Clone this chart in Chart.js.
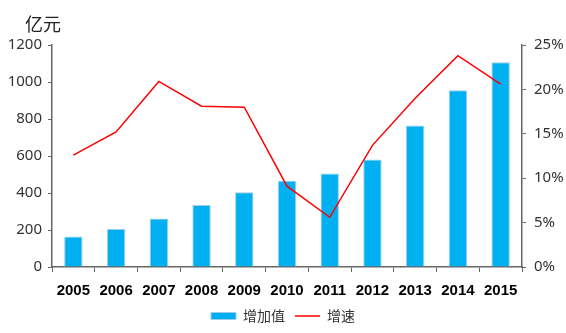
<!DOCTYPE html>
<html>
<head>
<meta charset="utf-8">
<script src="https://cdn.jsdelivr.net/npm/chart.js@4/dist/chart.umd.min.js"></script>
<style>
  html, body { margin: 0; padding: 0; background: #fff; }
  #wrap { width: 566px; height: 333px; }
</style>
</head>
<body>
<div id="wrap"><canvas id="chart"></canvas></div>
<script>
// 增加值 (亿元) and 增速 (%) by year
const years = ['2005', '2006', '2007', '2008', '2009', '2010', '2011', '2012', '2013', '2014', '2015'];
const addedValue = [165, 206, 262, 335, 404, 466, 505, 581, 765, 955, 1107];
const growthRate = [12.6, 15.2, 20.9, 18.1, 18.0, 9.1, 5.6, 13.7, 19.0, 23.8, 20.6];

Chart.defaults.font.family = '"Noto Sans", "Noto Sans CJK SC", sans-serif';
Chart.defaults.color = '#333';

// unit label above the left axis
const unitLabel = {
  id: 'unitLabel',
  afterDraw(chart) {
    const ctx = chart.ctx;
    ctx.save();
    ctx.font = '18px "Noto Sans CJK SC", sans-serif';
    ctx.fillStyle = '#222';
    ctx.textBaseline = 'middle';
    ctx.fillText('亿元', 25, 24);
    ctx.restore();
  }
};

const config = {
  type: 'bar',
  data: {
    labels: years,
    datasets: [
      {
        type: 'bar',
        label: '增加值',
        data: addedValue,
        yAxisID: 'y',
        backgroundColor: '#00b0f0',
        borderColor: '#9fcbe9',
        borderWidth: 1,
        barPercentage: 0.43,
        categoryPercentage: 1.0,
        pointStyle: 'rect',
      },
      {
        type: 'line',
        label: '增速',
        data: growthRate,
        yAxisID: 'y1',
        borderColor: '#ff0000',
        backgroundColor: '#ff0000',
        borderWidth: 1.5,
        pointRadius: 0,
        tension: 0,
        order: -1,
        pointStyle: 'line',
      },
    ],
  },
  options: {
    responsive: true,
    maintainAspectRatio: false,
    animation: false,
    layout: { padding: { top: 45, left: 0, right: 0, bottom: 0 } },
    plugins: {
      tooltip: { enabled: false },
      legend: {
        position: 'bottom',
        labels: {
          usePointStyle: true,
          pointStyleWidth: 25,
          boxWidth: 25,
          boxHeight: 7,
          padding: 10,
          color: '#333',
          font: { size: 14, family: '"Noto Sans CJK SC", sans-serif' },
          sort: (a, b) => a.datasetIndex - b.datasetIndex,
        },
      },
    },
    scales: {
      x: {
        offset: true,
        grid: {
          offset: true,
          drawOnChartArea: false,
          tickLength: 5,
          color: '#666',
        },
        border: { color: '#666', width: 1.5 },
        ticks: {
          color: '#000',
          padding: 10,
          font: { size: 15, weight: 'bold', family: '"Liberation Sans", Arial, sans-serif' },
        },
        afterFit(scale) { scale.height = 32; },
      },
      y: {
        position: 'left',
        min: 0,
        max: 1200,
        ticks: { stepSize: 200, padding: 6, font: { size: 15 }, callback: (v) => String(v) },
        grid: { drawOnChartArea: false, tickLength: 4, color: '#666' },
        border: { color: '#666', width: 1.5 },
        afterFit(scale) { scale.width = 52; },
      },
      y1: {
        position: 'right',
        min: 0,
        max: 25,
        ticks: {
          stepSize: 5,
          padding: 8,
          font: { size: 15 },
          callback: (v) => v + '%',
        },
        grid: { drawOnChartArea: false, tickLength: 4, color: '#666' },
        border: { color: '#666', width: 1.5 },
        afterFit(scale) { scale.width = 44; },
      },
    },
  },
  plugins: [unitLabel],
};

const ctx = document.getElementById('chart');
window.myChart = new Chart(ctx, config);
</script>
</body>
</html>
